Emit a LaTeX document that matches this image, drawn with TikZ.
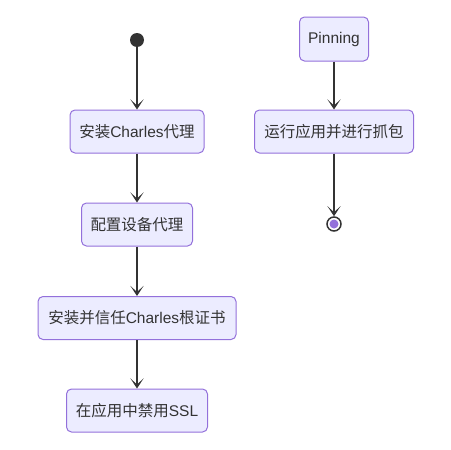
\documentclass[tikz,border=0pt]{standalone}
\usepackage{fontspec}
\setmainfont{Liberation Sans}
\newfontfamily\cjk{Noto Sans CJK SC}
\usetikzlibrary{arrows.meta}
\definecolor{boxfill}{HTML}{ECECFF}
\definecolor{boxdraw}{HTML}{9370DB}
\definecolor{txt}{HTML}{333333}
\tikzset{
  state/.style={draw=boxdraw, fill=boxfill, rounded corners=5pt, line width=1pt,
    minimum height=43pt, inner xsep=8pt, text=txt, font=\fontsize{15.5}{18}\selectfont, anchor=center},
  trans/.style={draw=txt, line width=1.3pt, -{Stealth[length=10pt,width=13pt,inset=6pt]}},
}
\begin{document}
\begin{tikzpicture}[x=1pt,y=-1pt]
\useasboundingbox (0,0) rectangle (451,450);
\node[circle, fill=txt, minimum size=14pt, inner sep=0pt] (start) at (137,40) {};
\node[state, minimum width=134pt] (s1) at (137,131.5) {{\cjk 安装}Charles{\cjk 代理}};
\node[state, minimum width=111pt] (s2) at (137,224.5) {{\cjk 配置设备代理}};
\node[state, minimum width=198pt] (s3) at (137,318) {{\cjk 安装并信任}Charles{\cjk 根证书}};
\node[state, minimum width=141pt] (s4) at (137,410.5) {{\cjk 在应用中禁用}SSL};
\node[state, minimum width=69pt, minimum height=44pt] (p) at (334,39) {Pinning};
\node[state, minimum width=159pt] (r) at (334,131.5) {{\cjk 运行应用并进行抓包}};
\node[circle, draw=txt, line width=1.5pt, fill=white, minimum size=14pt, inner sep=0pt] (end) at (334,224) {};
\fill[boxdraw] (end.center) circle (4.5pt);
\draw[trans] (start) -- (s1);
\draw[trans] (s1) -- (s2);
\draw[trans] (s2) -- (s3);
\draw[trans] (s3) -- (s4);
\draw[trans] (p) -- (r);
\draw[trans] (r) -- (end);
\end{tikzpicture}
\end{document}
